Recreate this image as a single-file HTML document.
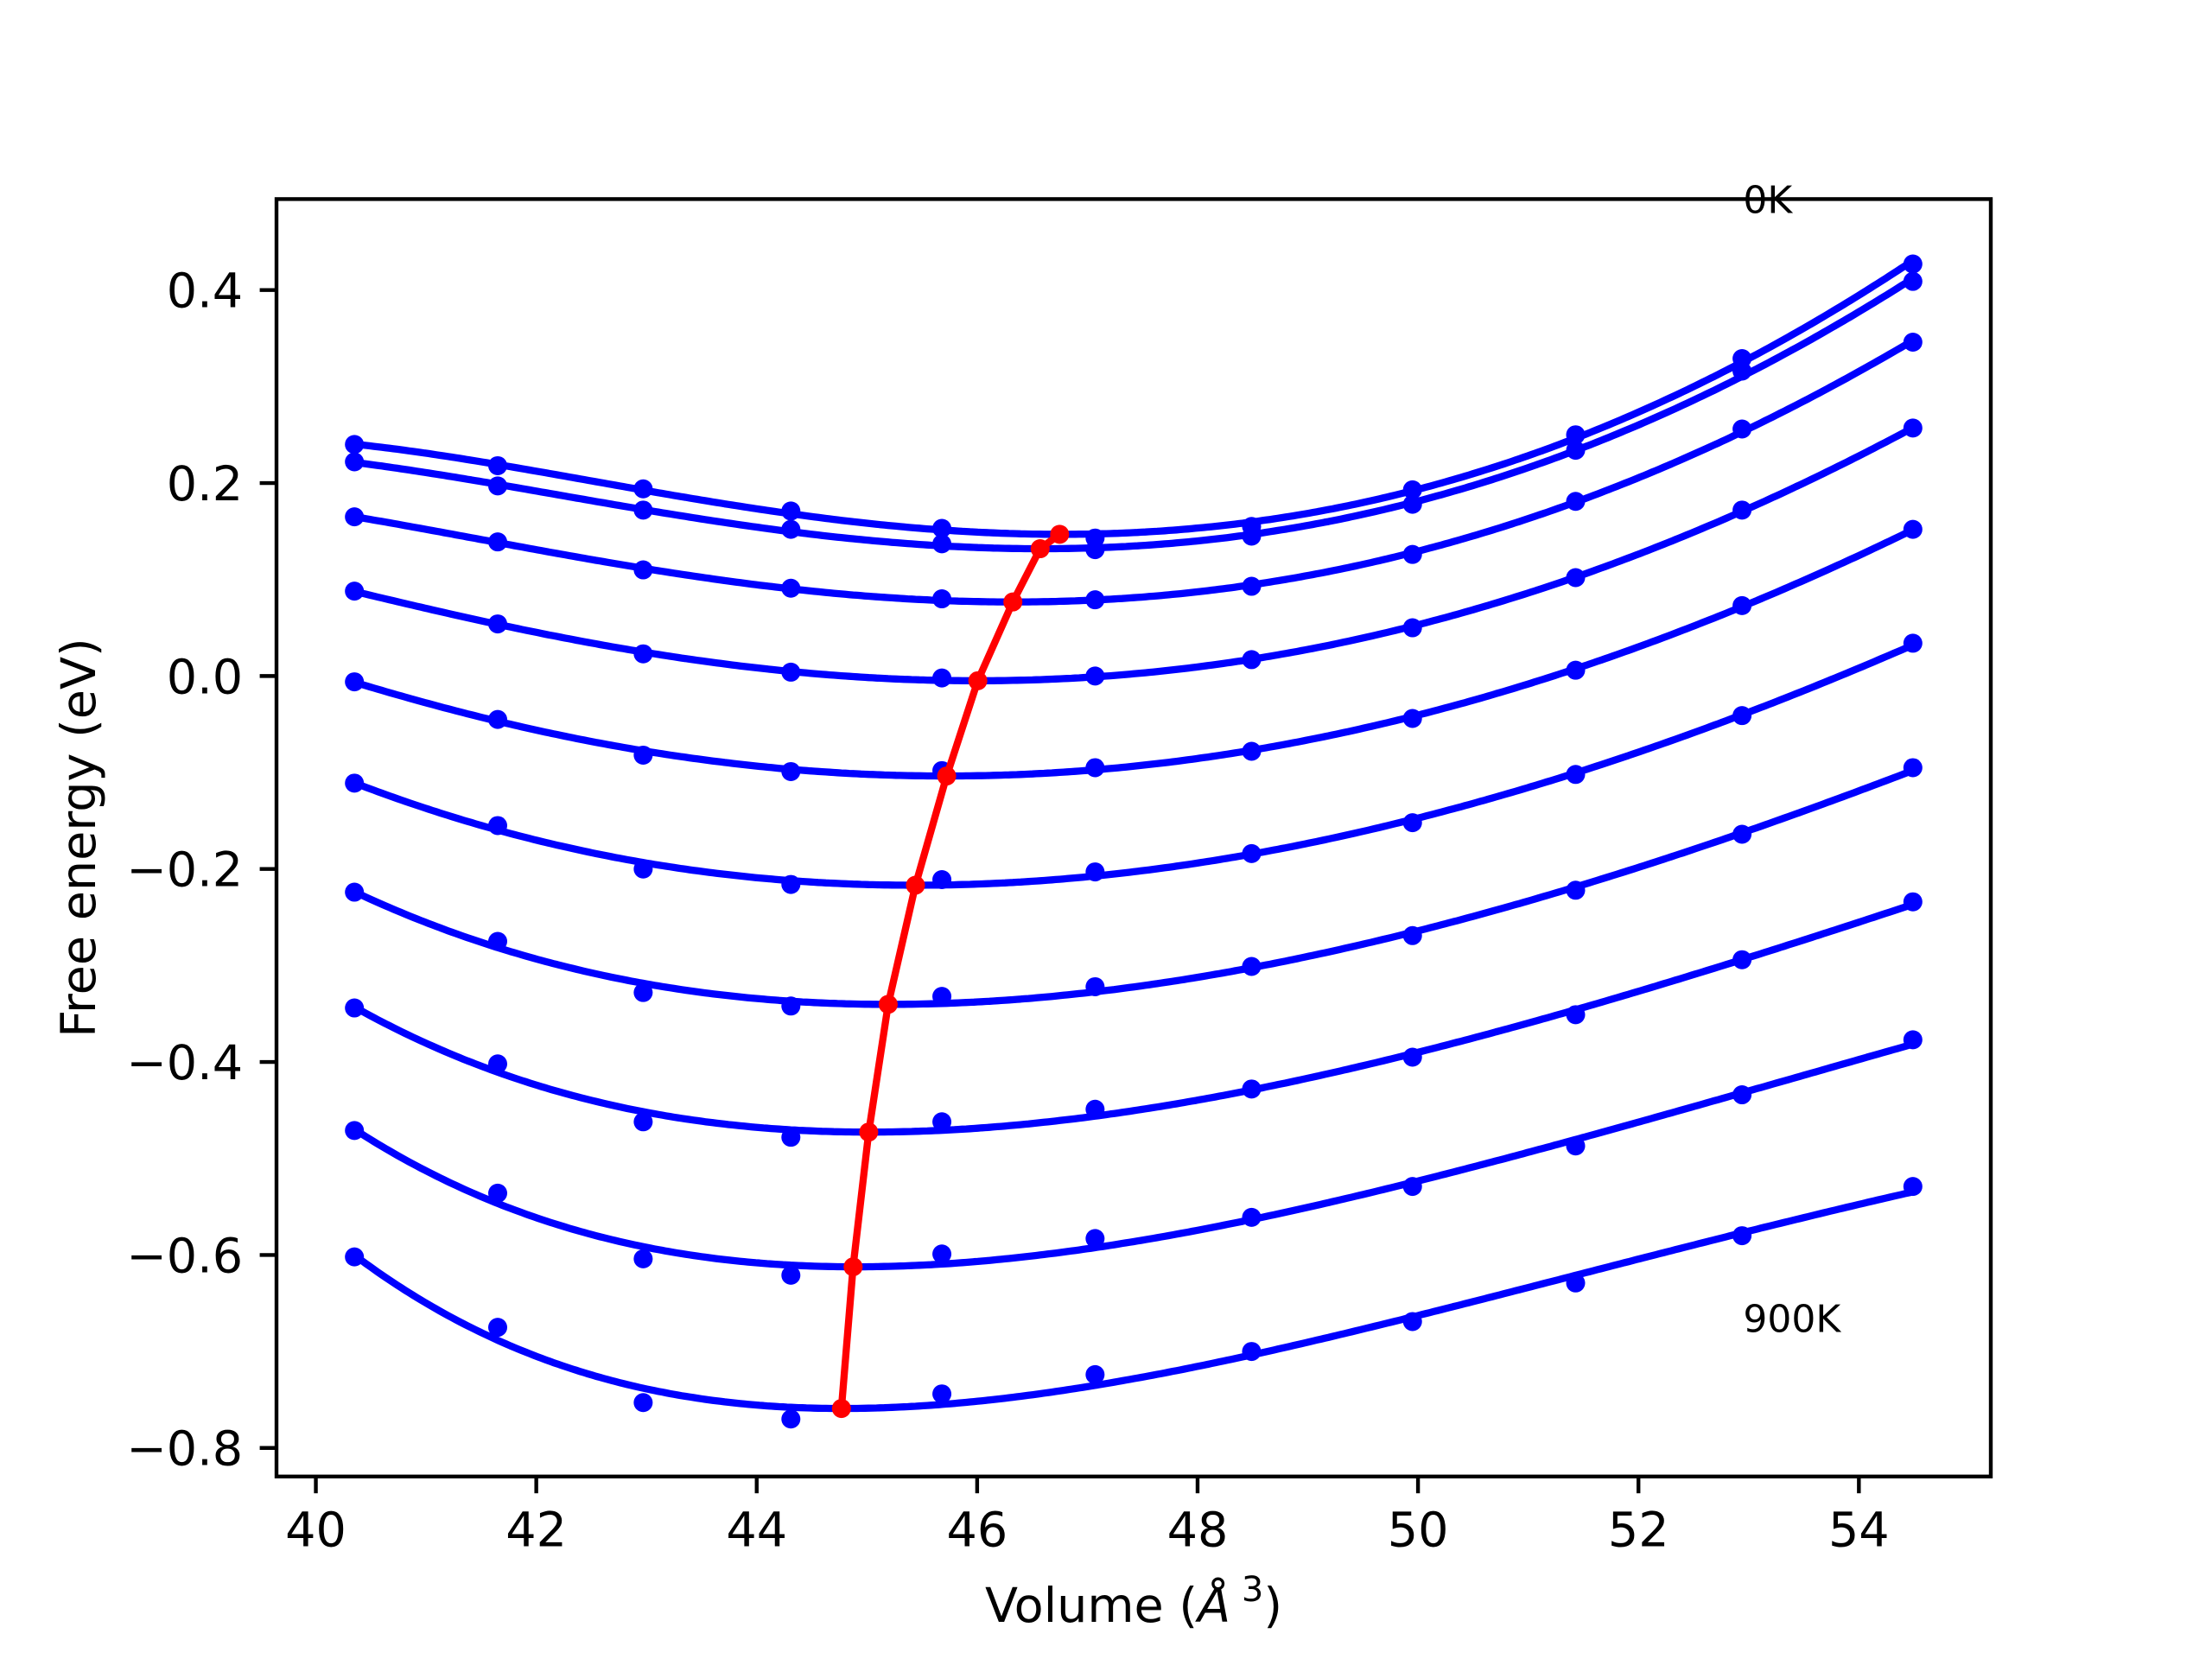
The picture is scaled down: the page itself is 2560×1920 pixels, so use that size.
<!DOCTYPE html>
<html><head><meta charset="utf-8"><style>
html,body{margin:0;padding:0;background:#fff;}
svg{display:block;}
text{font-family:"DejaVu Sans","Liberation Sans",sans-serif;fill:#000;}
</style></head><body>
<svg id="chart" width="2560" height="1920" viewBox="0 0 2560 1920" xmlns="http://www.w3.org/2000/svg">
<rect x="0" y="0" width="2560" height="1920" fill="#fff"/>
<g id="plot"></g>
<g id="axes"></g>
</svg>
<script>
const volumes = [40.35, 41.65, 42.97, 44.31, 45.68, 47.07, 48.49, 49.95, 51.43, 52.94, 54.49];
const curve0K = [0.240, 0.218, 0.194, 0.171, 0.153, 0.143, 0.155, 0.193, 0.250, 0.329, 0.427];
const curve100K = [0.222, 0.197, 0.172, 0.152, 0.137, 0.131, 0.145, 0.178, 0.234, 0.316, 0.409];
const curve200K = [0.165, 0.139, 0.110, 0.091, 0.080, 0.079, 0.093, 0.126, 0.181, 0.256, 0.346];
const curve300K = [0.088, 0.054, 0.023, 0.004, -0.002, 0.000, 0.017, 0.050, 0.102, 0.172, 0.257];
const curve400K = [-0.006, -0.045, -0.082, -0.099, -0.098, -0.095, -0.078, -0.044, 0.006, 0.073, 0.152];
const curve500K = [-0.111, -0.155, -0.200, -0.216, -0.211, -0.203, -0.184, -0.152, -0.102, -0.041, 0.034];
const curve600K = [-0.224, -0.275, -0.328, -0.342, -0.332, -0.322, -0.301, -0.269, -0.222, -0.164, -0.095];
const curve700K = [-0.344, -0.402, -0.462, -0.478, -0.462, -0.449, -0.428, -0.395, -0.351, -0.294, -0.234];
const curve800K = [-0.471, -0.536, -0.604, -0.621, -0.599, -0.583, -0.561, -0.529, -0.487, -0.434, -0.377];
const curve900K = [-0.602, -0.675, -0.753, -0.770, -0.744, -0.724, -0.700, -0.669, -0.629, -0.580, -0.529];
const xTicks = [40, 42, 44, 46, 48, 50, 52, 54];
const yTicks = [-0.8, -0.6, -0.4, -0.2, 0.0, 0.2, 0.4];
const yTickLabels = ["\u22120.8", "\u22120.6", "\u22120.4", "\u22120.2", "0.0", "0.2", "0.4"];

const curves = [curve0K, curve100K, curve200K, curve300K, curve400K, curve500K, curve600K, curve700K, curve800K, curve900K];
const NS = "http://www.w3.org/2000/svg";
const L = 320, R = 2304, T = 230.4, B = 1708.8;
const vmin = Math.min(...volumes), vmax = Math.max(...volumes);
const xm = (vmax - vmin) * 0.05;
const xMin = vmin - xm, xMax = vmax + xm;
const yMin = -0.8296, yMax = 0.4943;
function sx(v){ return L + (v - xMin) / (xMax - xMin) * (R - L); }
function sy(v){ return B - (v - yMin) / (yMax - yMin) * (B - T); }
function mk(tag, attrs, parent){ const e = document.createElementNS(NS, tag); for (const k in attrs) e.setAttribute(k, attrs[k]); parent.appendChild(e); return e; }

// Birch-Murnaghan style fit: cubic polynomial in V^(-2/3)
function eosFit(xs, ys){
  const tr = v => Math.pow(v, -2/3);
  const ts = xs.map(tr);
  const c = ts.reduce((a,b)=>a+b,0)/ts.length;
  const s = (Math.max(...ts) - Math.min(...ts)) / 2;
  const A = [[0,0,0,0],[0,0,0,0],[0,0,0,0],[0,0,0,0]], bb = [0,0,0,0];
  ts.forEach((x,i)=>{ const t=(x-c)/s; const p=[1,t,t*t,t*t*t];
    for(let r=0;r<4;r++){ bb[r]+=p[r]*ys[i]; for(let q=0;q<4;q++) A[r][q]+=p[r]*p[q]; } });
  for(let i=0;i<4;i++){ let m=i; for(let r=i+1;r<4;r++) if(Math.abs(A[r][i])>Math.abs(A[m][i])) m=r;
    [A[i],A[m]]=[A[m],A[i]]; [bb[i],bb[m]]=[bb[m],bb[i]];
    for(let r=0;r<4;r++){ if(r===i) continue; const f=A[r][i]/A[i][i]; for(let q=i;q<4;q++) A[r][q]-=f*A[i][q]; bb[r]-=f*bb[i]; } }
  const co = bb.map((v,i)=>v/A[i][i]);
  return x => { const t=(tr(x)-c)/s; return co[0]+co[1]*t+co[2]*t*t+co[3]*t*t*t; };
}

const plot = document.getElementById('plot');
const axes = document.getElementById('axes');
const minima = [];
curves.forEach((ys, ci) => {
  const f = eosFit(volumes, ys);
  let d = "", bestX = vmin, bestY = Infinity;
  for (let i = 0; i <= 400; i++) {
    const x = vmin + (vmax - vmin) * i / 400, y = f(x);
    d += (i ? "L" : "M") + sx(x).toFixed(1) + "," + sy(y).toFixed(1);
    if (y < bestY) { bestY = y; bestX = x; }
  }
  minima.push([bestX, bestY]);
  const line = mk('path', {d: d, fill: 'none', stroke: '#0000ff', 'stroke-width': 8.3, 'stroke-linejoin': 'round'}, plot);
  
  
  ys.forEach((y, i) => {
    const p = mk('circle', {cx: sx(volumes[i]), cy: sy(y), r: 11, fill: '#0000ff'}, plot);
    
    
  });
});
const rd = minima.map((m, i) => (i ? "L" : "M") + sx(m[0]).toFixed(1) + "," + sy(m[1]).toFixed(1)).join("");
const red = mk('path', {d: rd, fill: 'none', stroke: '#ff0000', 'stroke-width': 8.3, 'stroke-linejoin': 'round'}, plot);


minima.forEach(m => {
  const p = mk('circle', {cx: sx(m[0]), cy: sy(m[1]), r: 11, fill: '#ff0000'}, plot);
  
  
});

const t0 = mk('text', {x: sx(52.95), y: sy(0.48), 'font-size': 44}, plot);
t0.textContent = "0K";


const t9 = mk('text', {x: sx(52.95), y: sy(-0.68), 'font-size': 44}, plot);
t9.textContent = "900K";



const frame = mk('rect', {x: L, y: T, width: R - L, height: B - T, fill: 'none', stroke: '#000', 'stroke-width': 4.4}, axes);


xTicks.forEach(v => {
  const x = sx(v);
  const tk = mk('line', {x1: x, x2: x, y1: B, y2: B + 19.4, stroke: '#000', 'stroke-width': 4.4}, axes);
  
  
  const tl = mk('text', {x: x, y: B + 19.4 + 19.4 + 42, 'font-size': 55.6, 'text-anchor': 'middle'}, axes);
  tl.textContent = String(v);
  
  
});
yTicks.forEach((v, i) => {
  const y = sy(v);
  const tk = mk('line', {x1: L - 19.4, x2: L, y1: y, y2: y, stroke: '#000', 'stroke-width': 4.4}, axes);
  
  
  const tl = mk('text', {x: L - 19.4 - 19.4, y: y + 20, 'font-size': 55.6, 'text-anchor': 'end'}, axes);
  tl.textContent = yTickLabels[i];
  
  
});
const xl = mk('text', {x: (L + R) / 2, y: 1877, 'font-size': 55.6, 'text-anchor': 'middle'}, axes);
xl.innerHTML = 'Volume (<tspan font-style="italic">Å</tspan><tspan dy="-24" font-size="40"> 3</tspan><tspan dy="24">)</tspan>';


const yl = mk('text', {x: 0, y: 0, 'font-size': 55.6, 'text-anchor': 'middle', transform: 'translate(110,' + ((T + B) / 2) + ') rotate(-90)'}, axes);
yl.textContent = "Free energy (eV)";


</script>
</body></html>
